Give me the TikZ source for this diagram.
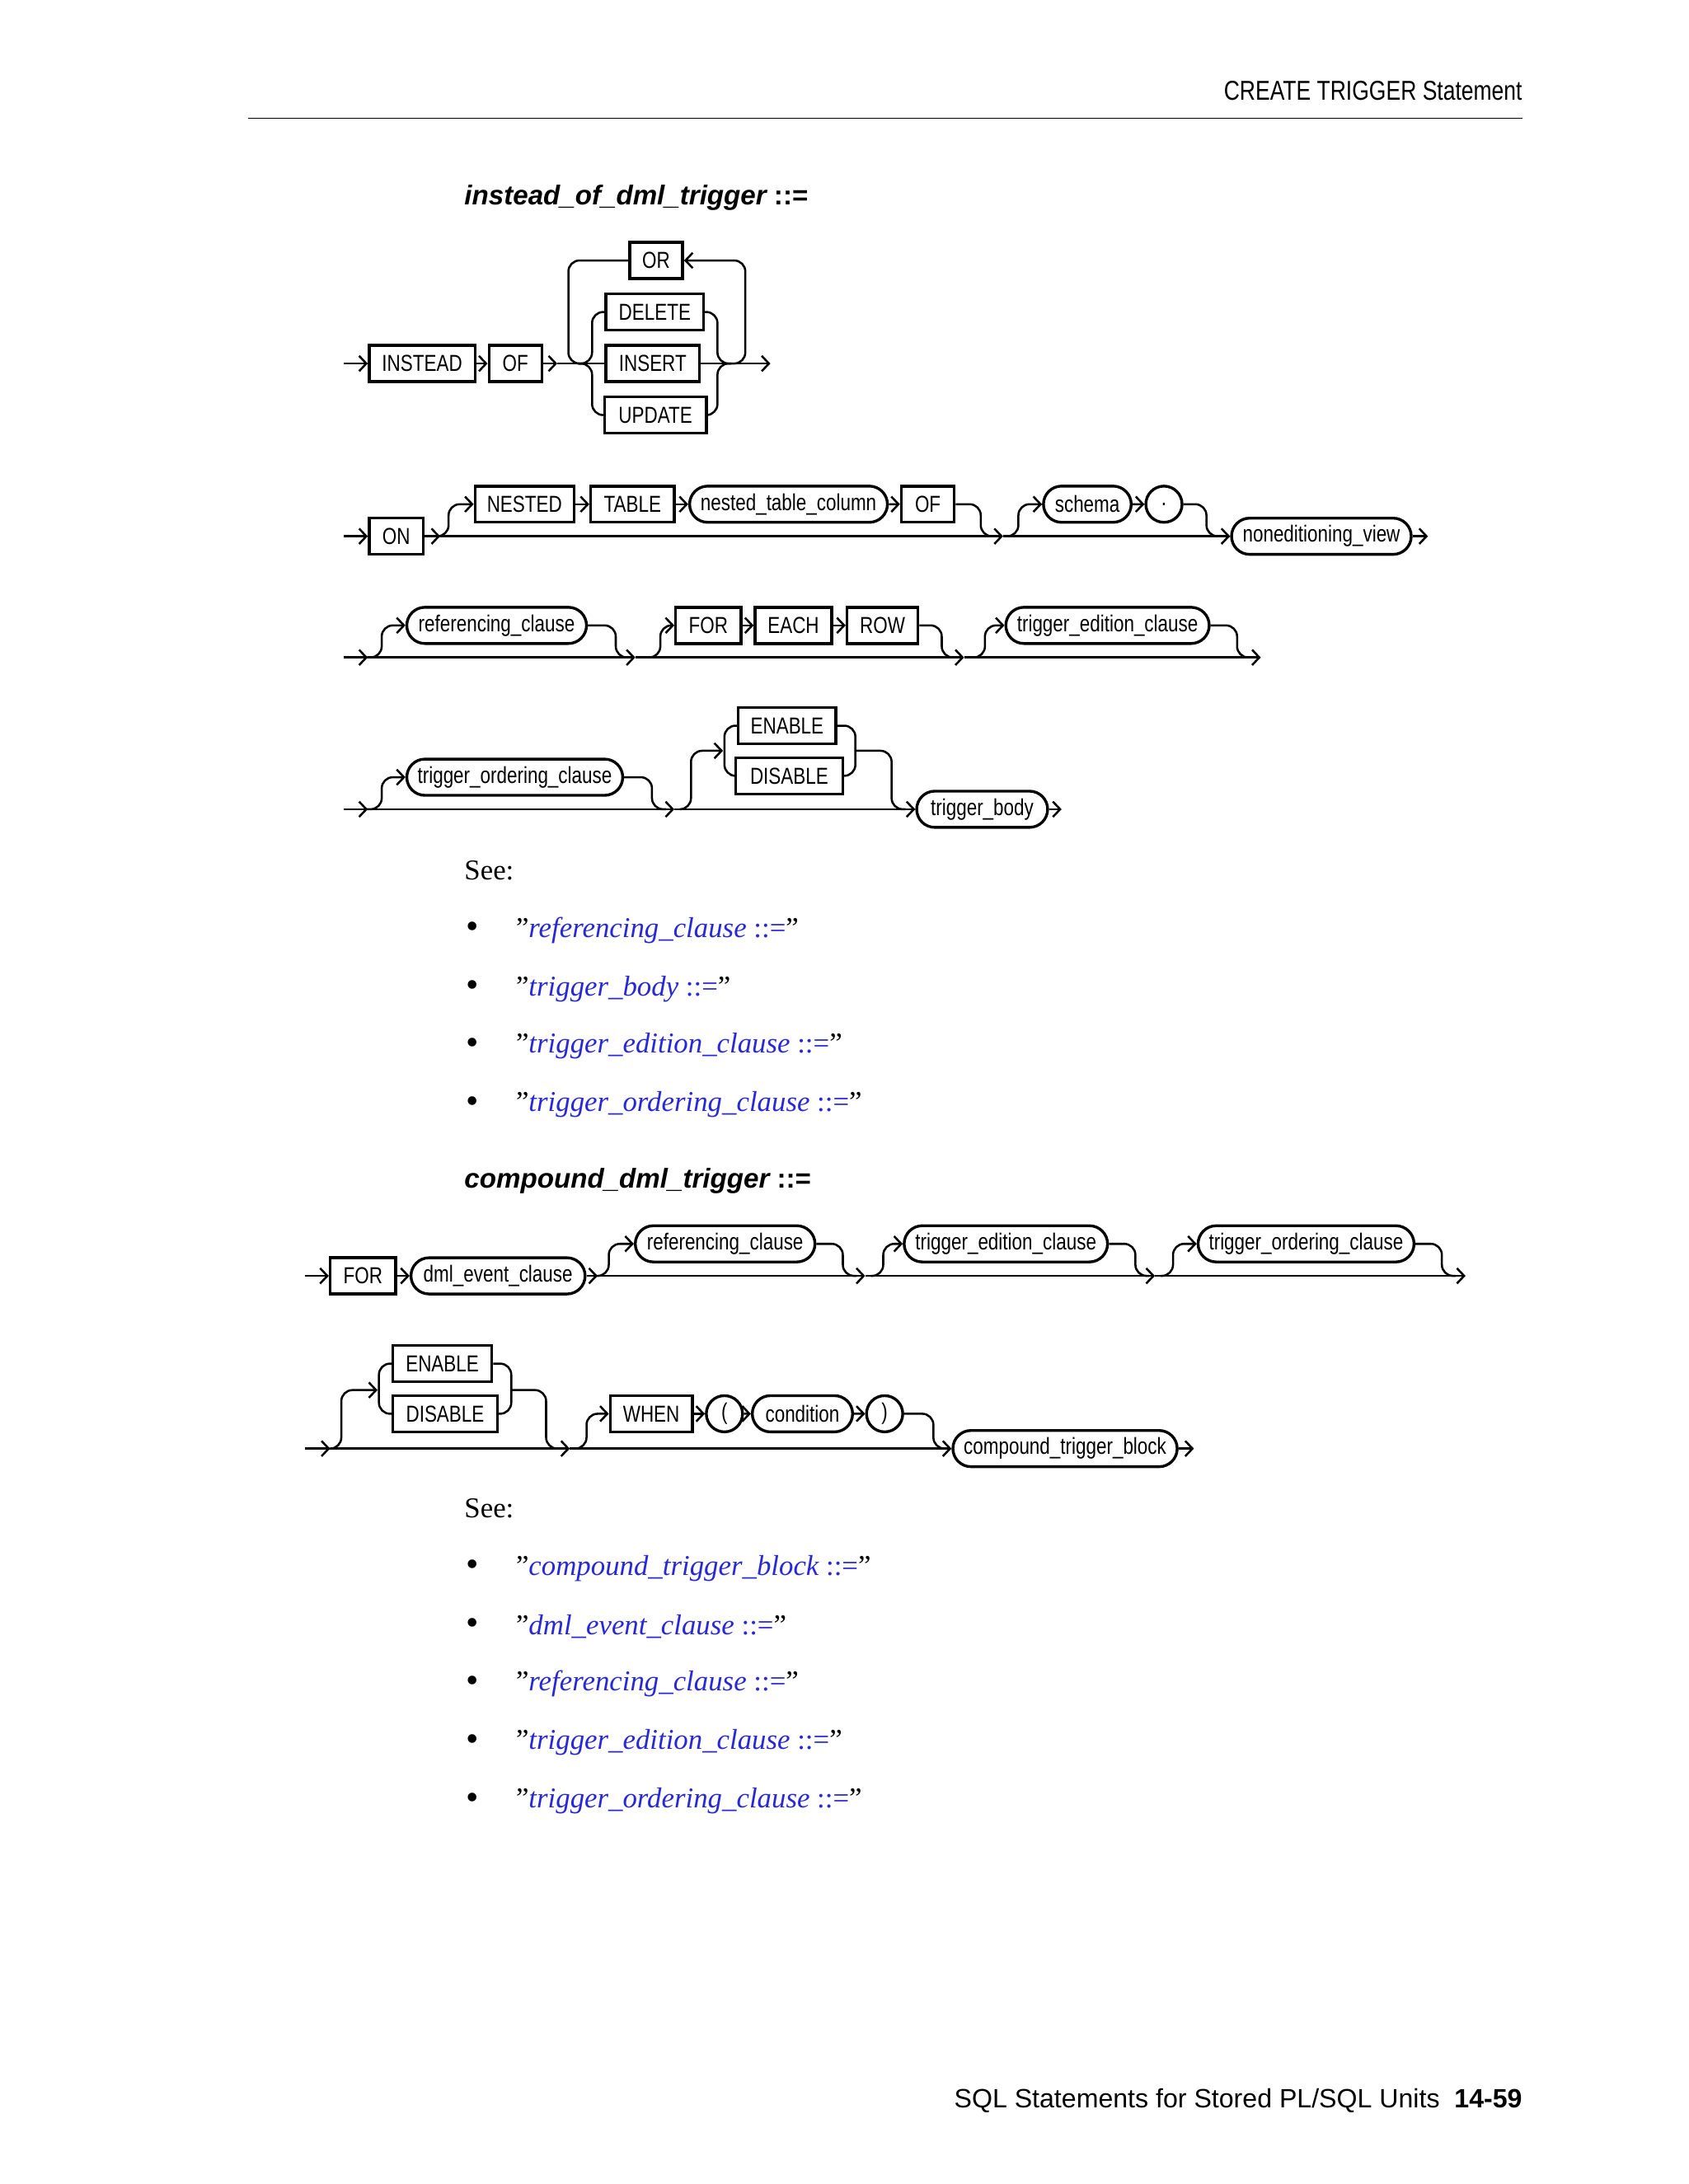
\documentclass[tikz,border=0pt]{standalone}
\usepackage{fontspec}
\setmainfont{Liberation Serif}
\newfontfamily\dg[FakeStretch=0.8]{Liberation Sans}
\newfontfamily\hd{Liberation Sans}
\usetikzlibrary{arrows.meta,shapes.misc}
\definecolor{lnk}{RGB}{40,40,215}
\tikzset{
  ln/.style={line width=0.75pt},
  rc/.style={ln,rounded corners=4pt},
  >={Straight Barb[length=2.6pt,width=5.5pt]},
  kwbox/.style={draw,line width=1pt,rectangle,minimum height=13pt,inner sep=0pt,font=\dg\fontsize{8.3}{9}\selectfont},
  refbox/.style={draw,line width=1pt,rounded rectangle,minimum height=13pt,inner sep=0pt,font=\dg\fontsize{8.3}{9}\selectfont},
  see/.style={anchor=west,inner sep=0pt,font=\fontsize{10.3}{12}\selectfont},
  item/.style={anchor=west,inner sep=0pt,font=\fontsize{10.3}{12}\selectfont},
  ttl/.style={anchor=west,inner sep=0pt,font=\hd\bfseries\itshape\fontsize{9.8}{12}\selectfont},
}
\newcommand\kw[5]{\node[kwbox,minimum width={(#3-#2)*0.5pt}] (#1) at ({(#2+#3)/2},#4) {#5};}
\newcommand\rf[5]{\node[refbox,minimum width={(#3-#2)*0.5pt}] (#1) at ({(#2+#3)/2},#4) {#5};}
\newcommand\q{\char34}
\begin{document}
\begin{tikzpicture}[x=0.5pt,y=-0.5pt]
\useasboundingbox (0,0) rectangle (1212,1568);
% header
\node[anchor=east,inner sep=0pt,font=\dg\fontsize{9.8}{11}\selectfont] (hdr) at (1093,65) {CREATE TRIGGER Statement};
\coordinate (r1) at (178,85); \coordinate (r2) at (1093,85);
\draw[line width=0.5pt] (r1) -- (r2);
\node[ttl] (t1) at (333,142) {instead\_of\_dml\_trigger \normalfont\hd\bfseries ::=};

% ---- diagram 1
\kw{INSTEAD}{265}{341}{261}{INSTEAD}
\kw{OF1}{351}{389}{261}{OF}
\kw{OR}{452}{490}{187}{OR}
\kw{DELETE}{435}{505}{224}{DELETE}
\kw{INSERT}{435}{502}{261}{INSERT}
\kw{UPDATE}{434}{507}{298}{UPDATE}
\coordinate (s1) at (247,261);
\coordinate (a1) at (400,261);
\coordinate (e1) at (553,261);
\draw[ln,->] (s1) -- (INSTEAD.west);
\draw[ln,->] (INSTEAD) -- (OF1);
\draw[ln,->] (OF1.east) -- (a1);
\draw[ln] (a1) -- (INSERT.west);
\draw[ln,->] (INSERT.east) -- (e1);
\draw[rc] (415,261) -| (425,224) -- (DELETE.west);
\draw[rc] (415,261) -| (425,298) -- (UPDATE.west);
\draw[rc] (DELETE.east) -| (515,261) -- (525,261);
\draw[rc] (UPDATE.east) -| (515,261) -- (525,261);
\draw[rc,->] (525,261) -| (535,187) -- (OR.east);
\draw[rc] (OR.west) -| (408,261) -- (418,261);

% ---- diagram 2
\kw{ON}{265}{304}{385}{ON}
\kw{NESTED}{341}{412}{362}{NESTED}
\kw{TABLE}{424}{484}{362}{TABLE}
\rf{NTC}{495}{637}{362}{nested\_table\_column}
\kw{OF2}{647}{685}{362}{OF}
\rf{SCH}{749}{812}{362}{schema}
\rf{DOT}{824}{847}{362}{.}
\rf{NV}{884}{1013}{385}{noneditioning\_view}
\coordinate (s2) at (247,385);
\coordinate (b1) at (316,385);
\coordinate (b2) at (720,385);
\coordinate (e2) at (1025,385);
\draw[ln,->] (s2) -- (ON.west);
\draw[ln,->] (ON.east) -- (b1);
\draw[ln,->] (b1) -- (b2);
\draw[ln,->] (b2) -- (NV.west);
\draw[ln,->] (NV.east) -- (e2);
\draw[rc,->] (310,385) -| (322,362) -- (NESTED.west);
\draw[ln,->] (NESTED) -- (TABLE);
\draw[ln,->] (TABLE) -- (NTC);
\draw[ln,->] (NTC) -- (OF2);
\draw[rc] (OF2.east) -| (704,385) -- (714,385);
\draw[rc,->] (722,385) -| (731,362) -- (SCH.west);
\draw[ln,->] (SCH) -- (DOT);
\draw[rc] (DOT.east) -| (866,385) -- (876,385);

% ---- diagram 3
\rf{REF1}{292}{421}{449}{referencing\_clause}
\kw{FOR1}{485}{532}{449}{FOR}
\kw{EACH}{542}{597}{449}{EACH}
\kw{ROW}{608}{659}{449}{ROW}
\rf{TEC1}{722}{868}{449}{trigger\_edition\_clause}
\coordinate (s3) at (247,472);
\coordinate (c1) at (264,472);
\coordinate (c2) at (456,472);
\coordinate (c3) at (692,472);
\coordinate (e3) at (905,472);
\draw[ln,->] (s3) -- (c1);
\draw[ln,->] (c1) -- (c2);
\draw[ln,->] (c2) -- (c3);
\draw[ln,->] (c3) -- (e3);
\draw[rc,->] (262,472) -| (274,449) -- (REF1.west);
\draw[rc] (REF1.east) -| (442,472) -- (452,472);
\draw[rc,->] (462,472) -| (474,449) -- (FOR1.west);
\draw[ln,->] (FOR1) -- (EACH);
\draw[ln,->] (EACH) -- (ROW);
\draw[rc] (ROW.east) -| (676,472) -- (686,472);
\draw[rc,->] (696,472) -| (707,449) -- (TEC1.west);
\draw[rc] (TEC1.east) -| (888,472) -- (898,472);

% ---- diagram 4
\rf{TOC1}{292}{447}{558}{trigger\_ordering\_clause}
\kw{EN1}{530}{600}{521}{ENABLE}
\kw{DIS1}{528}{605}{557}{DISABLE}
\rf{TB}{658}{752}{581}{trigger\_body}
\coordinate (s4) at (247,581);
\coordinate (d1) at (264,581);
\coordinate (d2) at (484,581);
\coordinate (e4) at (762,581);
\draw[ln,->] (s4) -- (d1);
\draw[ln,->] (d1) -- (d2);
\draw[ln,->] (d2) -- (TB.west);
\draw[ln,->] (TB.east) -- (e4);
\draw[rc,->] (262,581) -| (274,558) -- (TOC1.west);
\draw[rc] (TOC1.east) -| (468,581) -- (478,581);
\draw[rc,->] (488,581) -| (496,539) -- (519,539);
\draw[rc] (EN1.west) -| (520,539) |- (DIS1.west);
\draw[rc] (EN1.east) -| (614,539) |- (DIS1.east);
\draw[rc] (614,539) -- (640,539) |- (650,581);

% see list 1
\node[see] (see1) at (333,625) {See:};
\foreach \y/\t [count=\i] in {668/referencing\_clause,710/trigger\_body,751/trigger\_edition\_clause,793/trigger\_ordering\_clause}{
  \node[item,font=\fontsize{13}{12}\selectfont] (bu\i) at (334,\y) {•};
  \node[item] (it\i) at (370,\y) {\q{\color{lnk}\itshape\t\ \upshape ::=}\q};
}

% ---- title 2
\node[ttl] (t2) at (333,848) {compound\_dml\_trigger \normalfont\hd\bfseries ::=};

% ---- diagram 5
\kw{FOR2}{237}{284}{916}{FOR}
\rf{DEC}{295}{420}{916}{dml\_event\_clause}
\rf{REF2}{456}{585}{893}{referencing\_clause}
\rf{TEC2}{649}{795}{893}{trigger\_edition\_clause}
\rf{TOC2}{860}{1015}{893}{trigger\_ordering\_clause}
\coordinate (s5) at (219,916);
\coordinate (f1) at (429,916);
\coordinate (f2) at (621,916);
\coordinate (f3) at (829,916);
\coordinate (e5) at (1052,916);
\draw[ln,->] (s5) -- (FOR2.west);
\draw[ln,->] (FOR2) -- (DEC);
\draw[ln,->] (DEC.east) -- (f1);
\draw[ln,->] (f1) -- (f2);
\draw[ln,->] (f2) -- (f3);
\draw[ln,->] (f3) -- (e5);
\draw[rc,->] (426,916) -| (437,893) -- (REF2.west);
\draw[rc] (REF2.east) -| (605,916) -- (615,916);
\draw[rc,->] (625,916) -| (634,893) -- (TEC2.west);
\draw[rc] (TEC2.east) -| (815,916) -- (825,916);
\draw[rc,->] (833,916) -| (842,893) -- (TOC2.west);
\draw[rc] (TOC2.east) -| (1035,916) -- (1045,916);

% ---- diagram 6
\kw{EN2}{282}{353}{979}{ENABLE}
\kw{DIS2}{282}{357}{1015}{DISABLE}
\kw{WHEN}{438}{497}{1015}{WHEN}
\rf{LP}{508}{532}{1015}{(}
\rf{COND}{540}{612}{1015}{condition}
\rf{RP}{623}{647}{1015}{)}
\rf{CTB}{684}{845}{1040}{compound\_trigger\_block}
\coordinate (s6) at (219,1040);
\coordinate (g1) at (237,1040);
\coordinate (g2) at (409,1040);
\coordinate (e6) at (857,1040);
\draw[ln,->] (s6) -- (g1);
\draw[ln,->] (g1) -- (g2);
\draw[ln,->] (g2) -- (CTB.west);
\draw[ln,->] (CTB.east) -- (e6);
\draw[rc,->] (233,1040) -| (245,998) -- (271,998);
\draw[rc] (EN2.west) -| (272,998) |- (DIS2.west);
\draw[rc] (EN2.east) -| (367,998) |- (DIS2.east);
\draw[rc] (367,998) -- (392,998) |- (402,1040);
\draw[rc,->] (412,1040) -| (421,1015) -- (WHEN.west);
\draw[ln,->] (WHEN) -- (LP);
\draw[ln,->] (LP) -- (COND);
\draw[ln,->] (COND) -- (RP);
\draw[rc] (RP.east) -| (670,1040) -- (678,1040);

% see list 2
\node[see] (see2) at (333,1083) {See:};
\foreach \y/\t [count=\i] in {1126/compound\_trigger\_block,1168/dml\_event\_clause,1209/referencing\_clause,1251/trigger\_edition\_clause,1293/trigger\_ordering\_clause}{
  \node[item,font=\fontsize{13}{12}\selectfont] (cu\i) at (334,\y) {•};
  \node[item] (ct\i) at (370,\y) {\q{\color{lnk}\itshape\t\ \upshape ::=}\q};
}

% footer
\node[anchor=east,inner sep=0pt,font=\hd\fontsize{9.5}{11}\selectfont] (ftr) at (1093,1508) {SQL Statements for Stored PL/SQL Units\ \ \textbf{14-59}};
\end{tikzpicture}
\end{document}
